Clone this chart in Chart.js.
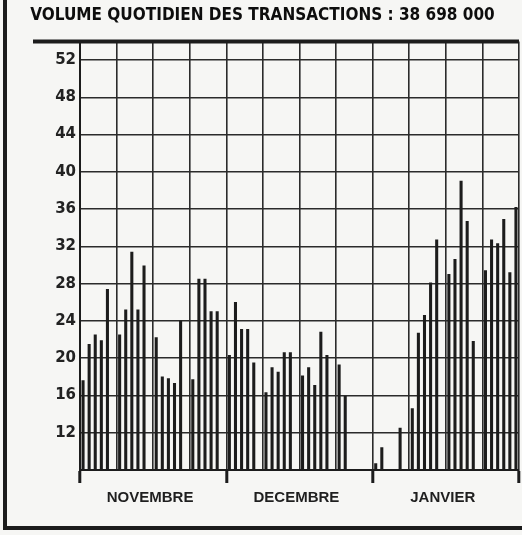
<!DOCTYPE html>
<html>
<head>
<meta charset="utf-8">
<script src="https://cdn.jsdelivr.net/npm/chart.js@4.4.1/dist/chart.umd.min.js"></script>
<style>
    html, body { margin: 0; padding: 0; background: #f6f6f4; }
    #wrap { width: 522px; height: 535px; position: relative; }
</style>
</head>
<body>
<div id="wrap"><canvas id="chartVolume"></canvas></div>
<script>
// 6 cases par semaine : 5 séances puis le week-end (null)
const mois = ['NOVEMBRE', 'DECEMBRE', 'JANVIER']
const novembre = [
    17.6, 21.5, 22.5, 21.9, 27.4, null,
    22.5, 25.2, 31.4, 25.2, 29.9, null,
    22.2, 18.0, 17.8, 17.3, 24.0, null,
    17.7, 28.5, 28.5, 25.0, 25.0, null
]
const decembre = [
    20.3, 26.0, 23.1, 23.1, 19.5, null,
    16.3, 19.0, 18.5, 20.6, 20.6, null,
    18.1, 19.0, 17.1, 22.8, 20.3, null,
    19.3, 15.9, null, null, null, null
]
const janvier = [
    8.7, 10.4, null, null, 12.5, null,
    14.6, 22.7, 24.6, 28.1, 32.7, null,
    29.0, 30.6, 39.0, 34.7, 21.8, null,
    29.4, 32.7, 32.3, 34.9, 29.2, 36.2
]
const graduations = [12, 16, 20, 24, 28, 32, 36, 40, 44, 48, 52]
const titre = 'VOLUME QUOTIDIEN DES TRANSACTIONS : 38 698 000'

const volumes = novembre.concat(decembre, janvier)
const jours = volumes.map((v, i) => mois[Math.floor(i / 24)] + ' ' + (i % 24 + 1))
const encre = '#1c1c1c'
const fond = '#f6f6f4'

// fond papier, filet sous le titre et cadre
const cadre = {
    id: 'cadre',
    beforeDraw(chart) {
        const ctx = chart.ctx
        ctx.save()
        ctx.fillStyle = fond
        ctx.fillRect(0, 0, chart.width, chart.height)
        ctx.restore()
    },
    afterDraw(chart) {
        const { ctx, chartArea } = chart
        ctx.save()
        ctx.strokeStyle = encre
        ctx.lineWidth = 4
        ctx.beginPath()
        ctx.moveTo(chartArea.left - 47, chartArea.top)
        ctx.lineTo(chartArea.right, chartArea.top)
        ctx.stroke()

        ctx.beginPath()
        ctx.moveTo(5, 0)
        ctx.lineTo(5, 528)
        ctx.lineTo(chart.width, 528)
        ctx.stroke()
        ctx.restore()
    }
}

new Chart(document.getElementById('chartVolume'), {
    type: 'bar',
    data: {
        labels: jours,
        datasets: [{
            label: 'Volume',
            data: volumes,
            backgroundColor: encre,
            barThickness: 2.4
        }]
    },
    options: {
        responsive: true,
        maintainAspectRatio: false,
        animation: false,
        layout: { padding: { left: 6, right: 3, top: 0, bottom: 0 } },
        plugins: {
            legend: { display: false },
            tooltip: { enabled: false },
            title: {
                display: true,
                text: titre,
                color: '#0d0d0d',
                align: 'center',
                padding: { top: 5, bottom: 16 },
                font: { family: "'DejaVu Sans Condensed', 'DejaVu Sans', sans-serif", size: 17, weight: 'bold' }
            }
        },
        scales: {
            x: {
                offset: true,
                grid: {
                    offset: true,
                    color: '#2b2b2b',
                    lineWidth: ctx => (ctx.index === undefined || ctx.index % 6 === 0) ? 1.6 : 0,
                    drawTicks: true,
                    tickLength: 13,
                    tickWidth: ctx => (ctx.index === undefined || ctx.index % 24 === 0) ? 3 : 0,
                    tickColor: encre
                },
                border: { display: true, color: encre, width: 2 },
                ticks: {
                    autoSkip: false,
                    maxRotation: 0,
                    minRotation: 0,
                    padding: 6,
                    color: '#1f1f1f',
                    font: { family: "'Liberation Sans', Arial, sans-serif", size: 15, weight: 'bold' },
                    callback: (value, index) => index % 24 === 11 ? mois[Math.floor(index / 24)] : ''
                },
                afterFit: scale => { scale.height = 65 }
            },
            y: {
                min: 8,
                max: 54,
                ticks: {
                    stepSize: 4,
                    padding: 4,
                    color: '#222',
                    font: { family: "'DejaVu Sans', sans-serif", size: 15, weight: 'bold' },
                    callback: value => graduations.includes(value) ? value : ''
                },
                grid: {
                    color: '#2b2b2b',
                    lineWidth: ctx => (ctx.tick && ctx.tick.value === 54) ? 0 : 1.6,
                    drawTicks: false
                },
                border: { display: true, color: encre, width: 2 },
                afterFit: scale => { scale.width = 74 }
            }
        }
    },
    plugins: [cadre]
})
</script>
</body>
</html>
